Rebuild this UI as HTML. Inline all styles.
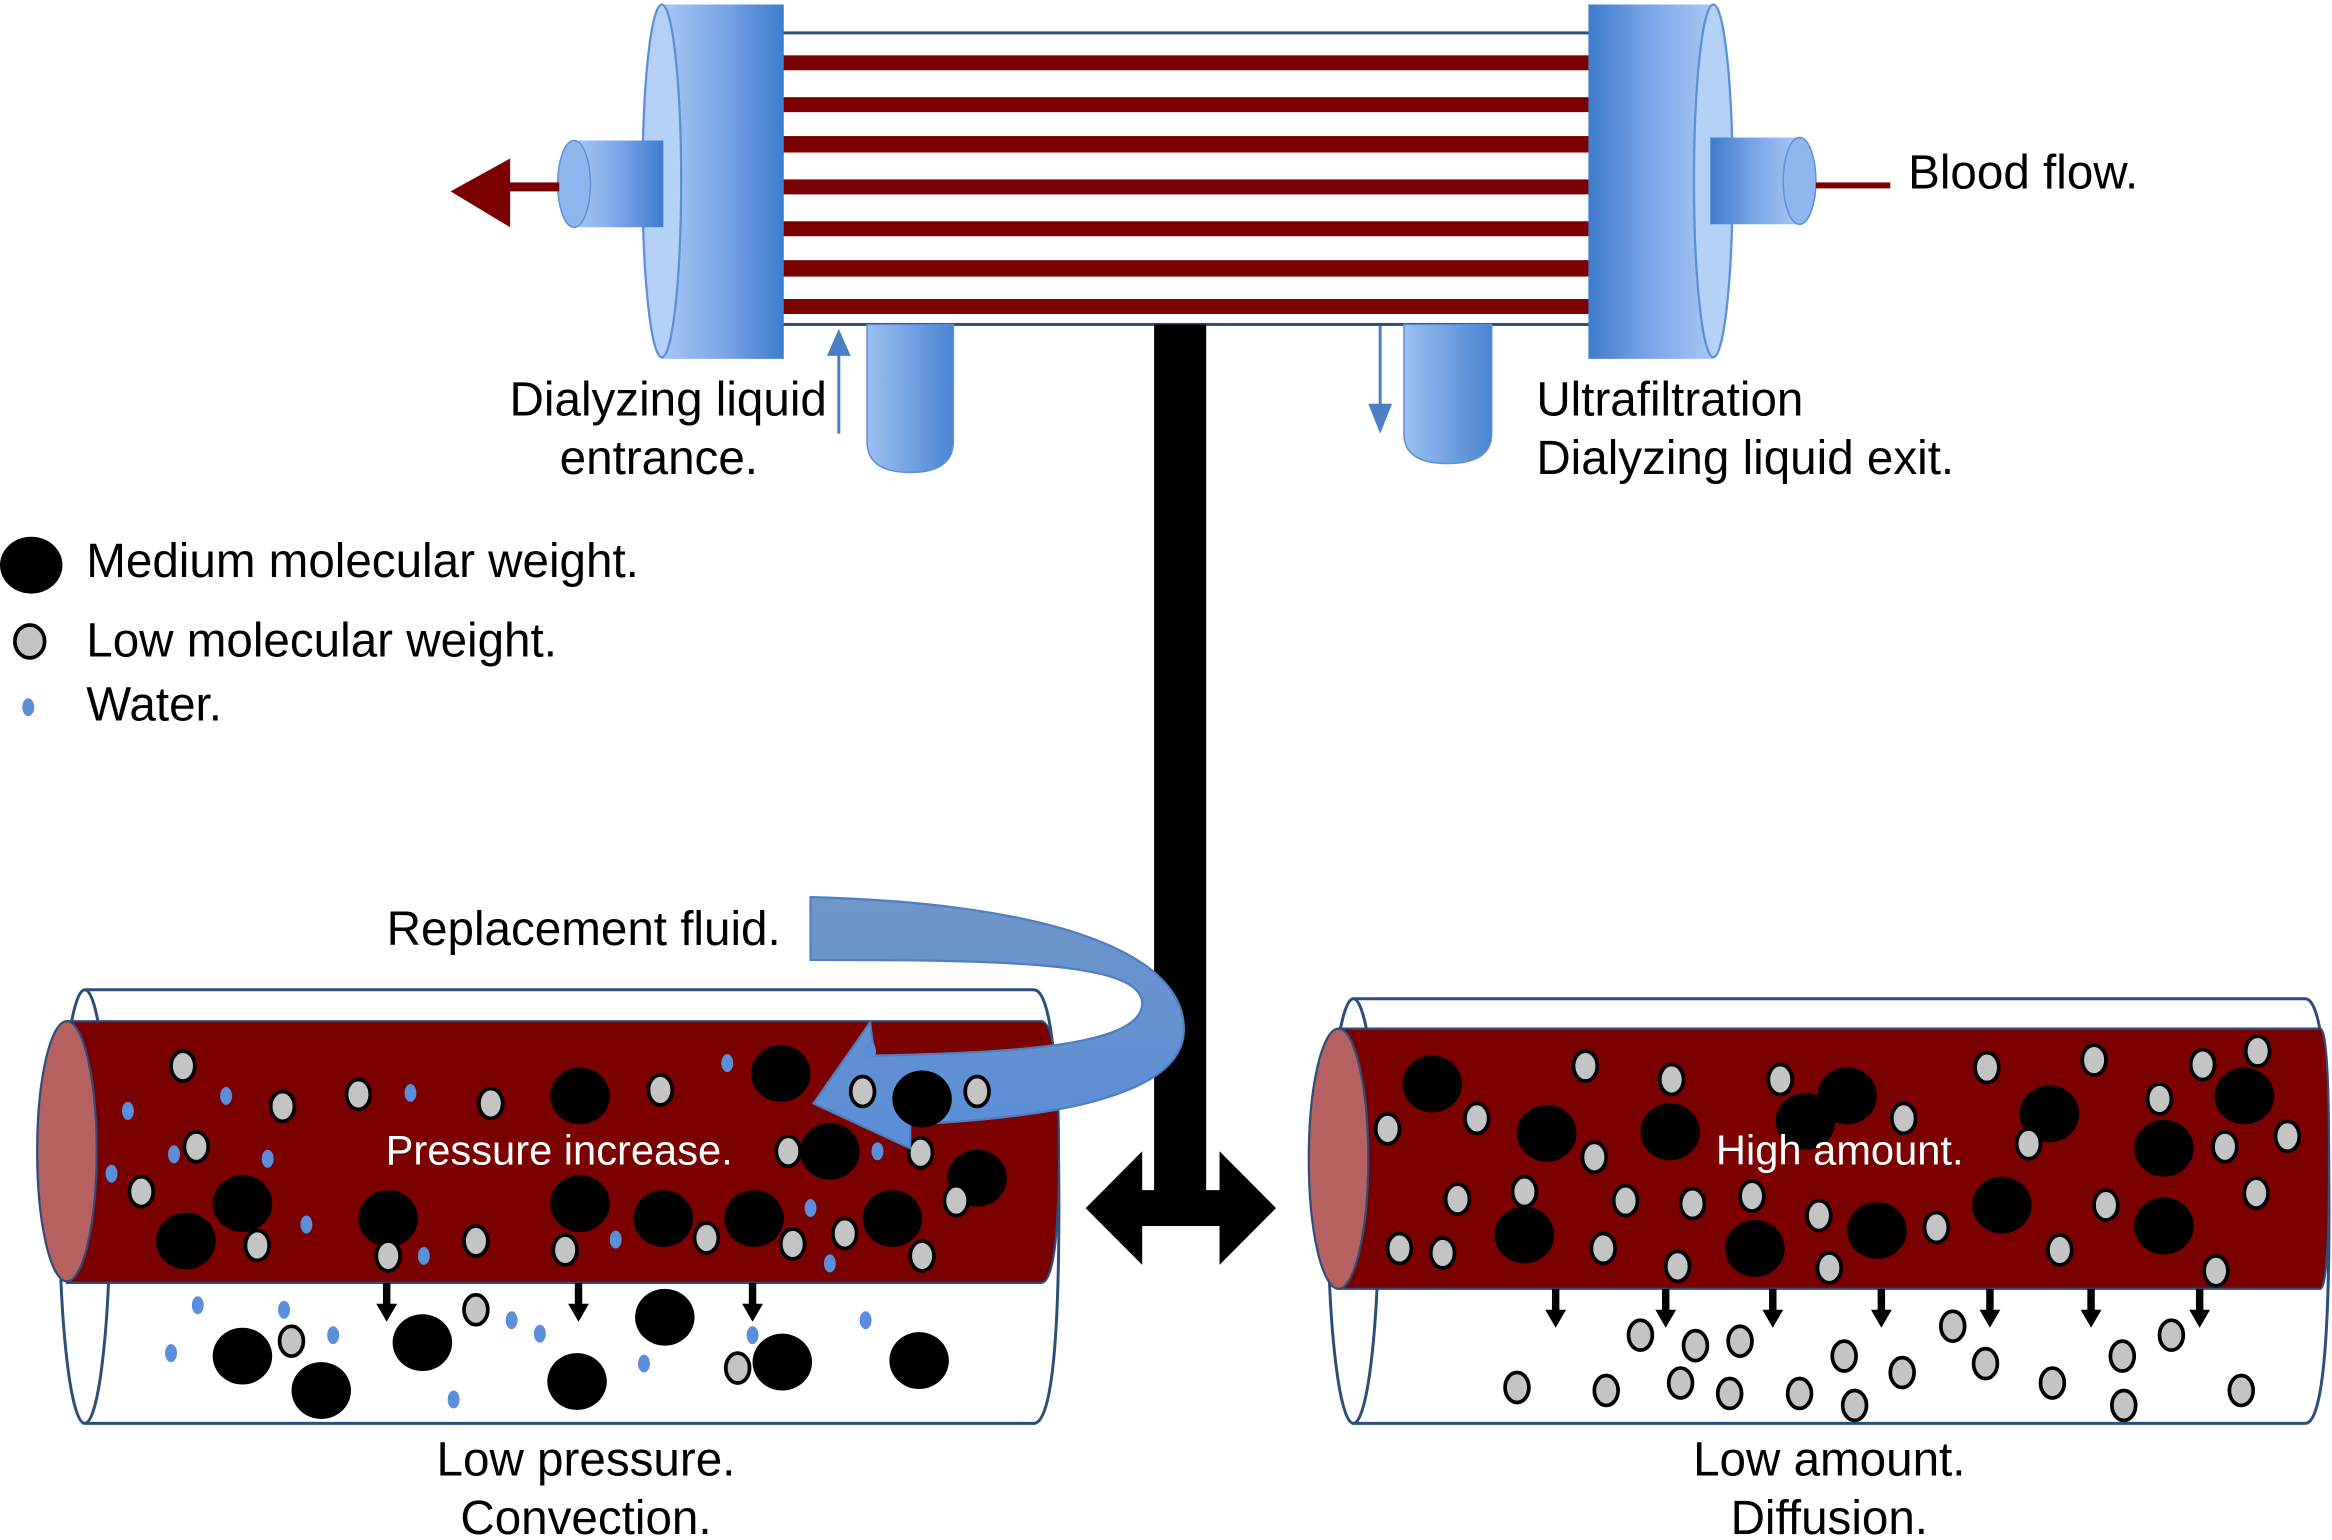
<!DOCTYPE html>
<html><head><meta charset="utf-8"><style>
html,body{margin:0;padding:0;background:#fff}
svg{display:block}
text{font-family:"Liberation Sans",Arial,sans-serif}
</style></head><body>
<svg width="2332" height="1540" viewBox="0 0 1568 1030" preserveAspectRatio="none" xmlns="http://www.w3.org/2000/svg">
<defs>
<linearGradient id="cap" x1="0" x2="1" y1="0" y2="0"><stop offset="0" stop-color="#a9c8f5"/><stop offset="0.5" stop-color="#7aa6e8"/><stop offset="1" stop-color="#3f7ccc"/></linearGradient>
<linearGradient id="capr" x1="0" x2="1" y1="0" y2="0"><stop offset="0" stop-color="#3f7ccc"/><stop offset="0.5" stop-color="#7aa6e8"/><stop offset="1" stop-color="#a9c8f5"/></linearGradient>
<linearGradient id="port" x1="0" x2="1"><stop offset="0" stop-color="#9cc0f2"/><stop offset="1" stop-color="#4a84d0"/></linearGradient>
<linearGradient id="curv" x1="0" x2="0" y1="0" y2="1"><stop offset="0" stop-color="#7096c9"/><stop offset="1" stop-color="#5a8ed8"/></linearGradient>
<g id="gr"><ellipse rx="8" ry="10" fill="#c4c4c4" stroke="#000" stroke-width="2.5"/></g>
<g id="bk"><ellipse rx="20" ry="19" fill="#000"/></g>
<g id="bl"><ellipse rx="4" ry="6" fill="#5b8fdb"/></g>
<g id="ar"><rect x="-2.5" y="0" width="5" height="16" fill="#000"/><polygon points="-7,14 7,14 0,26" fill="#000"/></g>
</defs>

<rect x="522" y="22" width="550" height="195" fill="#fff" stroke="#2d4e7a" stroke-width="2"/>
<g fill="#7b0000">
<rect x="525" y="37" width="545" height="10"/><rect x="525" y="65" width="545" height="10"/>
<rect x="525" y="91" width="545" height="11"/><rect x="525" y="120" width="545" height="10"/>
<rect x="525" y="148" width="545" height="10"/><rect x="525" y="174" width="545" height="11"/>
<rect x="525" y="200" width="545" height="10"/>
</g>
<path d="M583,217 L641,217 L641,295 Q641,316 612,316 Q583,316 583,295 Z" fill="url(#port)" stroke="#5b8fd6"/>
<path d="M944,217 L1003,217 L1003,290 Q1003,310 973,310 Q944,310 944,290 Z" fill="url(#port)" stroke="#5b8fd6"/>
<path d="M445,3 L527,3 L527,240 L445,240 Z" fill="url(#cap)"/>
<ellipse cx="445" cy="121" rx="13" ry="118" fill="#b6d1f7" stroke="#5b8fd6" stroke-width="1.5"/>
<path d="M1068,3 L1152,3 L1152,240 L1068,240 Z" fill="url(#capr)"/>
<ellipse cx="1152" cy="121" rx="13" ry="118" fill="#b6d1f7" stroke="#5b8fd6" stroke-width="1.5"/>
<rect x="386" y="94" width="60" height="58" fill="url(#cap)"/>
<ellipse cx="386" cy="123" rx="11" ry="29" fill="#8fb6ef" stroke="#5b8fd6"/>
<rect x="1150" y="92" width="60" height="58" fill="url(#capr)"/>
<ellipse cx="1210" cy="121" rx="11" ry="29" fill="#8fb6ef" stroke="#5b8fd6"/>
<rect x="340" y="122" width="36" height="6" fill="#7b0000"/>
<polygon points="303,128 343,106 343,152" fill="#7b0000"/>
<rect x="1221" y="122" width="50" height="4" fill="#7b0000"/>
<line x1="564" y1="290" x2="564" y2="232" stroke="#4a7fc8" stroke-width="2"/>
<polygon points="556,238 572,238 564,220" fill="#4a7fc8"/>
<line x1="928" y1="218" x2="928" y2="276" stroke="#4a7fc8" stroke-width="2"/>
<polygon points="920,270 936,270 928,290" fill="#4a7fc8"/>
<rect x="776" y="217" width="35" height="600" fill="#000"/>
<rect x="760" y="796" width="70" height="24" fill="#000"/>
<polygon points="730,808 768,770 768,846" fill="#000"/>
<polygon points="858,808 820,770 820,846" fill="#000"/>

<g font-size="32" fill="#000">
<text x="1283" y="126">Blood flow.</text>
<text x="556" y="278" text-anchor="end">Dialyzing liquid</text>
<text x="443" y="317" text-anchor="middle">entrance.</text>
<text x="1033" y="278">Ultrafiltration</text>
<text x="1033" y="317">Dialyzing liquid exit.</text>
<text x="58" y="386">Medium molecular weight.</text>
<text x="58" y="439">Low molecular weight.</text>
<text x="58" y="482">Water.</text>
<text x="260" y="632">Replacement fluid.</text>
<text x="394" y="987" text-anchor="middle">Low pressure.</text>
<text x="394" y="1026" text-anchor="middle">Convection.</text>
<text x="1230" y="987" text-anchor="middle">Low amount.</text>
<text x="1230" y="1026" text-anchor="middle">Diffusion.</text>
</g>
<ellipse cx="21" cy="378" rx="21" ry="19" fill="#000"/>
<ellipse cx="20" cy="429" rx="10" ry="11" fill="#c4c4c4" stroke="#000" stroke-width="2.5"/>
<ellipse cx="19" cy="473" rx="4" ry="6" fill="#5b8fdb"/>

<path d="M57,662 L695,662 Q712,662 712,807 Q712,952 695,952 L57,952" fill="#fff" stroke="#2d4e7a" stroke-width="2"/>
<ellipse cx="57" cy="807" rx="17" ry="145" fill="none" stroke="#2d4e7a" stroke-width="2"/>
<path d="M45,683 L700,683 Q712,683 712,770 Q712,858 700,858 L45,858 Z" fill="#7b0000" stroke="#2d4e7a" stroke-width="1.5"/>
<ellipse cx="45" cy="770" rx="20" ry="87" fill="#b5615f" stroke="#2d4e7a" stroke-width="1.5"/>
<g>
<use href="#bk" x="390" y="733"/><use href="#bk" x="525" y="718"/><use href="#bk" x="620" y="735"/><use href="#bk" x="558" y="770"/><use href="#bk" x="657" y="788"/><use href="#bk" x="163" y="805"/><use href="#bk" x="125" y="830"/><use href="#bk" x="261" y="815"/><use href="#bk" x="390" y="805"/><use href="#bk" x="446" y="815"/><use href="#bk" x="507" y="815"/><use href="#bk" x="600" y="815"/><use href="#bk" x="163" y="907"/><use href="#bk" x="216" y="930"/><use href="#bk" x="284" y="898"/><use href="#bk" x="388" y="924"/><use href="#bk" x="447" y="881"/><use href="#bk" x="526" y="911"/><use href="#bk" x="618" y="910"/>
<use href="#gr" x="123" y="713"/><use href="#gr" x="190" y="740"/><use href="#gr" x="241" y="732"/><use href="#gr" x="330" y="738"/><use href="#gr" x="444" y="729"/><use href="#gr" x="132" y="767"/><use href="#gr" x="95" y="797"/><use href="#gr" x="173" y="833"/><use href="#gr" x="261" y="840"/><use href="#gr" x="320" y="830"/><use href="#gr" x="380" y="836"/><use href="#gr" x="475" y="828"/><use href="#gr" x="530" y="770"/><use href="#gr" x="619" y="771"/><use href="#gr" x="643" y="803"/><use href="#gr" x="620" y="840"/><use href="#gr" x="568" y="825"/><use href="#gr" x="533" y="832"/><use href="#gr" x="196" y="897"/><use href="#gr" x="320" y="876"/><use href="#gr" x="496" y="915"/>
<use href="#bl" x="86" y="743"/><use href="#bl" x="152" y="733"/><use href="#bl" x="276" y="731"/><use href="#bl" x="489" y="711"/><use href="#bl" x="117" y="772"/><use href="#bl" x="180" y="775"/><use href="#bl" x="75" y="785"/><use href="#bl" x="206" y="819"/><use href="#bl" x="285" y="840"/><use href="#bl" x="414" y="829"/><use href="#bl" x="545" y="808"/><use href="#bl" x="558" y="845"/><use href="#bl" x="133" y="873"/><use href="#bl" x="191" y="876"/><use href="#bl" x="115" y="905"/><use href="#bl" x="224" y="893"/><use href="#bl" x="344" y="883"/><use href="#bl" x="363" y="892"/><use href="#bl" x="305" y="936"/><use href="#bl" x="433" y="912"/><use href="#bl" x="506" y="893"/><use href="#bl" x="582" y="883"/>
<use href="#ar" x="260" y="858"/><use href="#ar" x="389" y="858"/><use href="#ar" x="506" y="858"/>
</g>
<path d="M545,600 C700,604 798,635 796,690 C794,735 700,748 612,752 L612,768 L547,738 L585,684 L588,706 C680,704 770,700 768,670 C765,645 690,642 545,642 Z" fill="url(#curv)" stroke="#4f7fc0" stroke-width="1.5"/>
<use href="#gr" x="580" y="730"/><use href="#bk" x="620" y="735"/><use href="#gr" x="657" y="730"/><use href="#bl" x="585" y="703"/><use href="#bl" x="590" y="770"/>
<text x="376" y="779" font-size="28" fill="#fff" text-anchor="middle">Pressure increase.</text>

<path d="M910,668 L1550,668 Q1566,668 1566,810 Q1566,952 1550,952 L910,952" fill="#fff" stroke="#2d4e7a" stroke-width="2"/>
<ellipse cx="910" cy="810" rx="17" ry="142" fill="none" stroke="#2d4e7a" stroke-width="2"/>
<path d="M900,688 L1560,688 Q1566,688 1566,775 Q1566,862 1560,862 L900,862 Z" fill="#7b0000" stroke="#2d4e7a" stroke-width="1.5"/>
<ellipse cx="900" cy="775" rx="20" ry="87" fill="#b5615f" stroke="#2d4e7a" stroke-width="1.5"/>
<g>
<use href="#bk" x="963" y="725"/><use href="#bk" x="1040" y="758"/><use href="#bk" x="1123" y="757"/><use href="#bk" x="1214" y="750"/><use href="#bk" x="1242" y="733"/><use href="#bk" x="1378" y="745"/><use href="#bk" x="1455" y="768"/><use href="#bk" x="1509" y="733"/><use href="#bk" x="1025" y="826"/><use href="#bk" x="1180" y="835"/><use href="#bk" x="1262" y="823"/><use href="#bk" x="1346" y="806"/><use href="#bk" x="1455" y="820"/>
<use href="#gr" x="1066" y="713"/><use href="#gr" x="1124" y="722"/><use href="#gr" x="1197" y="722"/><use href="#gr" x="1336" y="714"/><use href="#gr" x="1408" y="709"/><use href="#gr" x="1452" y="735"/><use href="#gr" x="1481" y="712"/><use href="#gr" x="1518" y="703"/><use href="#gr" x="933" y="755"/><use href="#gr" x="993" y="748"/><use href="#gr" x="1072" y="774"/><use href="#gr" x="1280" y="748"/><use href="#gr" x="1364" y="765"/><use href="#gr" x="1496" y="767"/><use href="#gr" x="1538" y="760"/><use href="#gr" x="980" y="802"/><use href="#gr" x="1025" y="797"/><use href="#gr" x="1093" y="803"/><use href="#gr" x="1138" y="805"/><use href="#gr" x="1178" y="800"/><use href="#gr" x="1223" y="813"/><use href="#gr" x="1302" y="821"/><use href="#gr" x="1416" y="806"/><use href="#gr" x="1517" y="798"/><use href="#gr" x="941" y="835"/><use href="#gr" x="970" y="838"/><use href="#gr" x="1078" y="835"/><use href="#gr" x="1128" y="847"/><use href="#gr" x="1230" y="848"/><use href="#gr" x="1385" y="836"/><use href="#gr" x="1490" y="850"/>
<use href="#gr" x="1103" y="893"/><use href="#gr" x="1140" y="900"/><use href="#gr" x="1170" y="897"/><use href="#gr" x="1240" y="907"/><use href="#gr" x="1279" y="918"/><use href="#gr" x="1313" y="887"/><use href="#gr" x="1335" y="912"/><use href="#gr" x="1427" y="907"/><use href="#gr" x="1460" y="893"/><use href="#gr" x="1020" y="928"/><use href="#gr" x="1080" y="930"/><use href="#gr" x="1130" y="925"/><use href="#gr" x="1163" y="932"/><use href="#gr" x="1210" y="932"/><use href="#gr" x="1247" y="940"/><use href="#gr" x="1380" y="925"/><use href="#gr" x="1428" y="940"/><use href="#gr" x="1507" y="930"/>
<use href="#ar" x="1046" y="862"/><use href="#ar" x="1120" y="862"/><use href="#ar" x="1192" y="862"/><use href="#ar" x="1265" y="862"/><use href="#ar" x="1338" y="862"/><use href="#ar" x="1406" y="862"/><use href="#ar" x="1479" y="862"/>
</g>
<text x="1237" y="779" font-size="28" fill="#fff" text-anchor="middle">High amount.</text>
</svg>
</body></html>
